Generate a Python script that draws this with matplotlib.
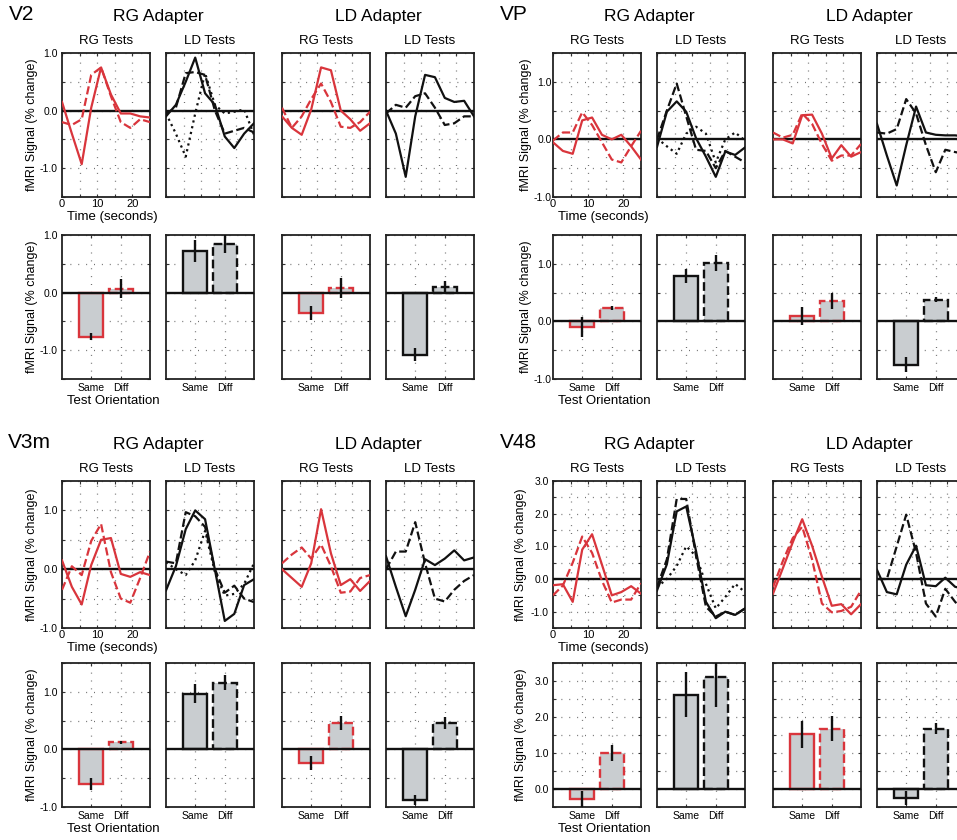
import matplotlib
matplotlib.use('Agg')
import matplotlib.pyplot as plt
import numpy as np

plt.rcParams['font.family'] = ['Liberation Sans', 'DejaVu Sans']

# ---------------- data ----------------
TIME = [0.0, 2.8, 5.6, 8.3, 11.1, 13.9, 16.7, 19.4, 22.2, 25.0]
TIME_TICKS = [0, 10, 20]
BAR_LABELS = ['Same', 'Diff']
REGIONS = ['V2', 'VP', 'V3m', 'V48']
ADAPTERS = ['RG Adapter', 'LD Adapter']
TESTS = ['RG Tests', 'LD Tests', 'RG Tests', 'LD Tests']

# V2 time courses
v2_rgA_rgT_solid = [0.15, -0.4, -0.93, 0.05, 0.75, 0.28, -0.05, -0.05, -0.1, -0.12]
v2_rgA_rgT_dashed = [-0.2, -0.25, -0.15, 0.62, 0.75, 0.25, -0.2, -0.3, -0.15, -0.2]
v2_rgA_ldT_solid = [-0.1, 0.1, 0.5, 0.92, 0.3, 0.1, -0.45, -0.65, -0.4, -0.22]
v2_rgA_ldT_dashed = [-0.05, 0.05, 0.65, 0.67, 0.62, 0.0, -0.4, -0.35, -0.3, -0.38]
v2_rgA_ldT_dotted = [-0.05, -0.4, -0.8, -0.05, 0.65, 0.1, -0.05, -0.02, 0.02, -0.42]
v2_ldA_rgT_solid = [-0.1, -0.3, -0.42, 0.02, 0.75, 0.7, 0.0, -0.15, -0.35, -0.22]
v2_ldA_rgT_dashed = [0.05, -0.3, -0.1, 0.2, 0.47, 0.15, -0.28, -0.3, -0.2, -0.02]
v2_ldA_ldT_solid = [0.0, -0.4, -1.15, -0.1, 0.62, 0.58, 0.22, 0.15, 0.17, -0.1]
v2_ldA_ldT_dashed = [-0.05, 0.1, 0.05, 0.25, 0.3, 0.05, -0.25, -0.22, -0.1, -0.1]

# VP time courses
vp_rgA_rgT_solid = [-0.05, -0.2, -0.25, 0.33, 0.38, 0.08, 0.0, 0.08, -0.12, -0.35]
vp_rgA_rgT_dashed = [-0.02, 0.12, 0.12, 0.47, 0.25, -0.05, -0.35, -0.4, -0.12, 0.15]
vp_rgA_ldT_solid = [-0.13, 0.48, 0.66, 0.48, 0.02, -0.3, -0.65, -0.21, -0.27, -0.14]
vp_rgA_ldT_dashed = [0.0, 0.5, 0.97, 0.4, -0.18, -0.2, -0.5, -0.2, -0.3, -0.4]
vp_rgA_ldT_dotted = [0.02, -0.12, -0.25, 0.1, 0.22, 0.1, -0.4, 0.0, 0.12, -0.02]
vp_ldA_rgT_solid = [0.0, 0.0, -0.07, 0.42, 0.43, 0.1, -0.33, -0.1, -0.3, -0.22]
vp_ldA_rgT_dashed = [0.12, 0.03, 0.08, 0.45, 0.27, -0.08, -0.37, -0.28, -0.28, -0.08]
vp_ldA_ldT_solid = [0.27, -0.28, -0.8, -0.1, 0.57, 0.12, 0.08, 0.07, 0.07, 0.05]
vp_ldA_ldT_dashed = [0.12, 0.1, 0.18, 0.7, 0.45, -0.1, -0.57, -0.18, -0.22, -0.25]

# V3m time courses
v3m_rgA_rgT_solid = [0.15, -0.3, -0.6, 0.07, 0.5, 0.53, -0.08, -0.13, -0.05, -0.1]
v3m_rgA_rgT_dashed = [-0.35, 0.05, -0.1, 0.48, 0.77, -0.05, -0.5, -0.57, -0.15, 0.3]
v3m_rgA_ldT_solid = [-0.36, 0.05, 0.68, 1.0, 0.85, -0.01, -0.88, -0.76, -0.27, -0.17]
v3m_rgA_ldT_dashed = [0.13, 0.1, 0.97, 0.9, 0.72, 0.0, -0.4, -0.28, -0.5, -0.56]
v3m_rgA_ldT_dotted = [0.12, 0.0, -0.1, 0.15, 0.65, -0.05, -0.45, -0.42, -0.25, 0.1]
v3m_ldA_rgT_solid = [0.0, -0.15, -0.3, 0.1, 1.02, 0.27, -0.27, -0.17, -0.37, -0.2]
v3m_ldA_rgT_dashed = [0.1, 0.25, 0.37, 0.18, 0.42, 0.05, -0.4, -0.38, -0.15, -0.1]
v3m_ldA_ldT_solid = [0.22, -0.3, -0.8, -0.35, 0.17, 0.07, 0.18, 0.32, 0.15, 0.2]
v3m_ldA_ldT_dashed = [0.0, 0.3, 0.3, 0.8, 0.1, -0.5, -0.55, -0.35, -0.2, -0.1]

# V48 time courses
v48_rgA_rgT_solid = [-0.19, -0.16, -0.7, 0.9, 1.37, 0.44, -0.5, -0.4, -0.22, -0.45]
v48_rgA_rgT_dashed = [-0.5, -0.2, 0.5, 1.3, 0.8, -0.05, -0.72, -0.63, -0.63, -0.13]
v48_rgA_ldT_solid = [-0.35, 0.45, 2.07, 2.22, 0.85, -0.7, -1.2, -1.0, -1.1, -0.9]
v48_rgA_ldT_dashed = [-0.25, 0.6, 2.45, 2.45, 0.7, -0.85, -1.15, -1.0, -1.1, -0.9]
v48_rgA_ldT_dotted = [-0.25, 0.0, 0.4, 1.0, 0.7, -0.15, -0.9, -0.55, -0.15, -0.4]
v48_ldA_rgT_solid = [-0.45, 0.33, 1.12, 1.83, 1.02, 0.07, -0.82, -0.77, -1.08, -0.77]
v48_ldA_rgT_dashed = [-0.25, 0.55, 1.25, 1.6, 0.6, -0.75, -1.02, -0.98, -0.85, -0.35]
v48_ldA_ldT_solid = [0.28, -0.4, -0.47, 0.44, 1.02, -0.19, -0.22, 0.04, -0.24, -0.3]
v48_ldA_ldT_dashed = [0.0, 0.0, 1.0, 1.97, 0.8, -0.75, -1.15, -0.3, -0.7, -1.0]

# Bar means / errors: [RG-RG same, diff, RG-LD same, diff, LD-RG same, diff, LD-LD same, diff]
v2_bar_mean = [-0.77, 0.07, 0.72, 0.85, -0.36, 0.08, -1.08, 0.10]
v2_bar_err = [0.06, 0.17, 0.19, 0.16, 0.12, 0.17, 0.11, 0.10]
vp_bar_mean = [-0.10, 0.23, 0.79, 1.02, 0.09, 0.36, -0.75, 0.38]
vp_bar_err = [0.17, 0.04, 0.12, 0.14, 0.16, 0.14, 0.13, 0.04]
v3m_bar_mean = [-0.60, 0.12, 0.97, 1.16, -0.23, 0.46, -0.88, 0.46]
v3m_bar_err = [0.10, 0.03, 0.16, 0.13, 0.12, 0.12, 0.09, 0.10]
v48_bar_mean = [-0.28, 1.00, 2.62, 3.10, 1.52, 1.67, -0.25, 1.67]
v48_bar_err = [0.22, 0.22, 0.63, 0.82, 0.38, 0.35, 0.20, 0.15]

# ---------------- style ----------------
RED = '#d9353c'
BLACK = '#111111'
FILL = '#c9cdd0'
GRIDC = '#707070'
W, H = 957, 840

fig = plt.figure(figsize=(W / 100, H / 100), dpi=100)
fig.patch.set_facecolor('white')


def add_ax(x, y, w, h):
    return fig.add_axes([x / W, 1 - (y + h) / H, w / W, h / H])


def base_style(ax, ylim, xgrid, show_ylabels, ypad, ysize):
    ax.set_ylim(*ylim)
    for sp in ax.spines.values():
        sp.set_linewidth(1.3)
        sp.set_color('#222222')
    ys = np.arange(np.ceil(ylim[0] / 0.5) * 0.5, ylim[1] + 1e-9, 0.5)
    for yv in ys:
        ax.axhline(yv, color=GRIDC, lw=0.9, ls=(0, (0.8, 5.5)), zorder=0)
    for xv in xgrid:
        ax.axvline(xv, color=GRIDC, lw=0.9, ls=(0, (0.8, 5.5)), zorder=0)
    ax.axhline(0, color=BLACK, lw=1.7, zorder=4)
    major = np.arange(np.ceil(ylim[0]), np.floor(ylim[1]) + 1e-9, 1.0)
    ax.set_yticks(major)
    ax.set_yticks(ys, minor=True)
    if show_ylabels:
        ax.set_yticklabels(['%.1f' % v if abs(v) > 1e-9 else '0.0' for v in major])
    else:
        ax.set_yticklabels([])
    ax.tick_params(which='both', direction='in', length=2.5, width=0.8,
                   top=True, right=True, color='#333333', labelsize=8, pad=4)
    ax.tick_params(axis='y', pad=ypad, labelsize=ysize)
    ax.tick_params(axis='x', pad=1.5)


def draw_region(name, cols, y_time, h_time, y_bar, h_bar, tlim, blim,
                courses, bar_mean, bar_err, label_x, ylab_x, ypad, ysize):
    pw = 88
    colors = [RED, BLACK, RED, BLACK]
    # region label and headers
    fig.text(label_x / W, 1 - (y_time - 38) / H, name, fontsize=15,
             ha='left', va='center')
    for i, adapter in enumerate(ADAPTERS):
        cx = (cols[2 * i] + cols[2 * i + 1] + pw) / 2
        fig.text(cx / W, 1 - (y_time - 36) / H, adapter, fontsize=12.5,
                 ha='center', va='center')
    for i, t in enumerate(TESTS):
        fig.text((cols[i] + pw / 2) / W, 1 - (y_time - 12) / H, t,
                 fontsize=9.5, ha='center', va='center')
    # time course panels
    for i in range(4):
        ax = add_ax(cols[i], y_time, pw, h_time)
        ax.set_xlim(TIME[0], TIME[-1])
        base_style(ax, tlim, [5, 10, 15, 20], i == 0, ypad, ysize)
        ax.set_xticks(TIME_TICKS)
        ax.set_xticks([5, 15], minor=True)
        if i == 0:
            ax.set_xticklabels([str(t) for t in TIME_TICKS])
        else:
            ax.set_xticklabels([])
        for vals, ls in courses[i]:
            ax.plot(TIME, vals, color=colors[i], lw=1.6, ls=ls, zorder=5,
                    clip_on=True)
    # bar panels
    for i in range(4):
        ax = add_ax(cols[i], y_bar, pw, h_bar)
        ax.set_xlim(0, 3)
        base_style(ax, blim, [1, 2], i == 0, ypad, ysize)
        ax.set_xticks([1, 2])
        ax.set_xticklabels(BAR_LABELS, fontsize=7.5)
        ax.tick_params(axis='x', pad=3)
        for j, ls in enumerate(['-', '--']):
            m = bar_mean[2 * i + j]
            e = bar_err[2 * i + j]
            ax.bar(j + 1, m, width=0.82, color=FILL, edgecolor=colors[i],
                   linewidth=1.7, linestyle=ls, zorder=3)
            ax.errorbar(j + 1, m, yerr=e, fmt='none', ecolor=BLACK,
                        elinewidth=1.7, capsize=0, zorder=6)
    # axis labels
    fig.text(ylab_x / W, 1 - (y_time + h_time / 2) / H, 'fMRI Signal (% change)',
             rotation=90, fontsize=9, ha='center', va='center')
    fig.text(ylab_x / W, 1 - (y_bar + h_bar / 2) / H, 'fMRI Signal (% change)',
             rotation=90, fontsize=9, ha='center', va='center')
    fig.text((cols[0] + pw / 2 + 6) / W, 1 - (y_time + h_time + 20) / H,
             'Time (seconds)', fontsize=9.5, ha='center', va='center')
    fig.text((cols[0] + pw / 2 + 7) / W, 1 - (y_bar + h_bar + 22) / H,
             'Test Orientation', fontsize=9.5, ha='center', va='center')


LEFT_COLS = [62, 166, 282, 386]
RIGHT_COLS = [553, 657, 773, 877]

draw_region('V2', LEFT_COLS, 53, 144, 235, 144, (-1.5, 1.0), (-1.5, 1.0),
            [[(v2_rgA_rgT_solid, '-'), (v2_rgA_rgT_dashed, '--')],
             [(v2_rgA_ldT_solid, '-'), (v2_rgA_ldT_dashed, '--'), (v2_rgA_ldT_dotted, ':')],
             [(v2_ldA_rgT_solid, '-'), (v2_ldA_rgT_dashed, '--')],
             [(v2_ldA_ldT_solid, '-'), (v2_ldA_ldT_dashed, '--')]],
            v2_bar_mean, v2_bar_err, 9, 32, 3, 7.5)

draw_region('VP', RIGHT_COLS, 53, 144, 235, 144, (-1.0, 1.5), (-1.0, 1.5),
            [[(vp_rgA_rgT_solid, '-'), (vp_rgA_rgT_dashed, '--')],
             [(vp_rgA_ldT_solid, '-'), (vp_rgA_ldT_dashed, '--'), (vp_rgA_ldT_dotted, ':')],
             [(vp_ldA_rgT_solid, '-'), (vp_ldA_rgT_dashed, '--')],
             [(vp_ldA_ldT_solid, '-'), (vp_ldA_ldT_dashed, '--')]],
            vp_bar_mean, vp_bar_err, 500, 526, 1, 7.5)

draw_region('V3m', LEFT_COLS, 481, 147, 663, 144, (-1.0, 1.5), (-1.0, 1.5),
            [[(v3m_rgA_rgT_solid, '-'), (v3m_rgA_rgT_dashed, '--')],
             [(v3m_rgA_ldT_solid, '-'), (v3m_rgA_ldT_dashed, '--'), (v3m_rgA_ldT_dotted, ':')],
             [(v3m_ldA_rgT_solid, '-'), (v3m_ldA_rgT_dashed, '--')],
             [(v3m_ldA_ldT_solid, '-'), (v3m_ldA_ldT_dashed, '--')]],
            v3m_bar_mean, v3m_bar_err, 8, 32, 3, 7.5)

draw_region('V48', RIGHT_COLS, 481, 147, 663, 144, (-1.5, 3.0), (-0.5, 3.5),
            [[(v48_rgA_rgT_solid, '-'), (v48_rgA_rgT_dashed, '--')],
             [(v48_rgA_ldT_solid, '-'), (v48_rgA_ldT_dashed, '--'), (v48_rgA_ldT_dotted, ':')],
             [(v48_ldA_rgT_solid, '-'), (v48_ldA_rgT_dashed, '--')],
             [(v48_ldA_ldT_solid, '-'), (v48_ldA_ldT_dashed, '--')]],
            v48_bar_mean, v48_bar_err, 500, 521, 3, 7.5)

fig.savefig('out.png', dpi=100)
